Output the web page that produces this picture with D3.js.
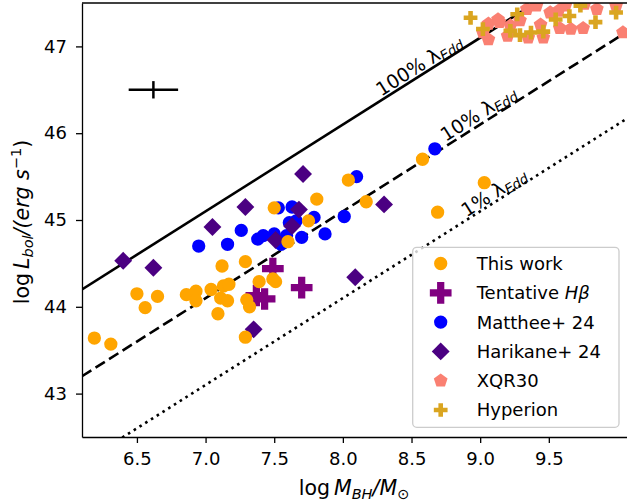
<!DOCTYPE html>
<html lang="en">
<head>
<meta charset="UTF-8">
<title>Lbol vs MBH</title>
<style>
  body { margin: 0; background: #fff; }
  svg text { font-family: "DejaVu Sans", sans-serif; fill: #000; }
</style>
</head>
<body>
<svg id="chart" width="627" height="503"></svg>
<script src="https://d3js.org/d3.v7.min.js"></script>
<script>

// [log M_BH, log L_bol]
const thisWork = [
  [6.19,43.64],[6.31,43.57],[6.50,44.15],[6.56,43.99],[6.65,44.12],[6.86,44.14],
  [6.93,44.18],[6.93,44.07],[7.04,44.20],[7.09,43.92],[7.12,44.47],[7.13,44.24],
  [7.17,44.26],[7.11,44.10],[7.16,44.07],[7.29,44.52],[7.39,44.29],[7.49,44.32],
  [7.51,44.29],[7.30,44.08],[7.32,44.00],[7.29,43.65],[7.50,45.14],[7.81,45.24],
  [7.75,44.99],[7.60,44.75],[8.04,45.46],[8.17,45.21],[8.58,45.70],[9.03,45.43],
  [8.69,45.09]
];
const tentative = [[7.49,44.44],[7.70,44.22],[7.37,44.13],[7.43,44.09]];
const matthee = [
  [6.95,44.70],[7.16,44.72],[7.26,44.88],[7.38,44.78],[7.42,44.82],[7.50,44.84],
  [7.53,45.14],[7.63,45.15],[7.61,44.97],[7.66,44.99],[7.59,44.82],[7.70,44.80],
  [7.55,44.72],[7.79,45.03],[7.87,44.84],[8.01,45.04],[8.10,45.50],[8.67,45.82]
];
const harikane = [
  [6.40,44.53],[6.62,44.45],[7.05,44.92],[7.29,45.15],[7.71,45.53],[7.68,45.12],
  [7.63,44.93],[7.51,44.77],[8.09,44.34],[8.30,45.18],[7.35,43.74]
];
const xqr30 = [
  [9.02,47.16],[9.06,47.08],[9.06,47.26],[9.13,47.31],[9.14,47.28],[9.22,47.24],
  [9.20,47.12],[9.34,47.43],[9.41,47.47],[9.35,47.10],[9.46,47.10],[9.51,47.39],
  [9.57,47.41],[9.62,47.47],[9.58,47.21],[9.66,47.20],[9.75,47.21],[9.76,47.49],
  [9.85,47.43],[9.99,47.47],[10.04,47.16],[9.29,47.30],[9.44,47.25]
];
const hyperion = [
  [8.93,47.33],[9.02,47.20],[9.22,47.18],[9.27,47.37],[9.29,47.13],[9.37,47.16],
  [9.46,47.17],[9.55,47.31],[9.65,47.35],[9.73,47.47],[9.84,47.28],[9.99,47.39]
];

const xTicks = [6.5, 7.0, 7.5, 8.0, 8.5, 9.0, 9.5];
const yTicks = [43, 44, 45, 46, 47];

// Eddington lines: log L = log M + 38.1 + log(fraction)
const eddFractions = [1, 0.1, 0.01];
const eddLabels = ["100%", "10%", "1%"];
const eddLabelPos = [[8.28, 46.42], [8.75, 45.90], [8.90, 45.03]];

// typical uncertainty cross
const errCross = {x: 6.62, y: 46.5, xerr: 0.18, yerr: 0.1};

const legendNames = ["This work", "Tentative", "Matthee+ 24", "Harikane+ 24", "XQR30", "Hyperion"];

const svg = d3.select("#chart");
const pLeft = 82, pTop = 3, pBottom = 437, pRight = 627;

const x = d3.scaleLinear().domain([6.1, 10.1]).range([pLeft, pLeft + 4 * 137.3]);
const y = d3.scaleLinear().domain([42.5, 47.5]).range([pBottom, pTop]);

svg.append("clipPath").attr("id", "plotclip")
  .append("rect").attr("x", pLeft).attr("y", pTop)
  .attr("width", pRight - pLeft).attr("height", pBottom - pTop);

const plot = svg.append("g").attr("clip-path", "url(#plotclip)");

// Eddington lines
const dashes = [null, "11,5", "2.6,4.2"];
const line = d3.line().x(d => x(d[0])).y(d => y(d[1]));
eddFractions.forEach((f, i) => {
  const off = 38.1 + Math.log10(f);
  plot.append("path")
    .attr("d", line([[6.1, 6.1 + off], [10.1, 10.1 + off]]))
    .attr("fill", "none")
    .attr("stroke", "#000")
    .attr("stroke-width", 2.6)
    .attr("stroke-dasharray", dashes[i]);
});

// line labels, rotated along the lines
const angle = -Math.atan((y(0) - y(1)) / (x(1) - x(0))) * 180 / Math.PI;
eddLabels.forEach((lab, i) => {
  const p = eddLabelPos[i];
  const t = svg.append("text")
    .attr("transform", `translate(${x(p[0])},${y(p[1])}) rotate(${angle})`)
    .style("font-size", "19px");
  t.append("tspan").text(lab + " \u03bb");
  t.append("tspan").text("Edd").style("font-style", "italic")
    .style("font-size", "13.5px").attr("dy", 3);
});

// error cross
plot.append("line")
  .attr("x1", x(errCross.x - errCross.xerr)).attr("x2", x(errCross.x + errCross.xerr))
  .attr("y1", y(errCross.y)).attr("y2", y(errCross.y))
  .attr("stroke", "#000").attr("stroke-width", 2.5);
plot.append("line")
  .attr("x1", x(errCross.x)).attr("x2", x(errCross.x))
  .attr("y1", y(errCross.y - errCross.yerr)).attr("y2", y(errCross.y + errCross.yerr))
  .attr("stroke", "#000").attr("stroke-width", 2.5);

// pentagon symbol (size = radius^2)
const symbolPentagon = {
  draw(ctx, size) {
    const r = Math.sqrt(size);
    for (let k = 0; k < 5; k++) {
      const a = -Math.PI / 2 + k * 2 * Math.PI / 5;
      if (k === 0) ctx.moveTo(r * Math.cos(a), r * Math.sin(a));
      else ctx.lineTo(r * Math.cos(a), r * Math.sin(a));
    }
    ctx.closePath();
  }
};

const styles = [
  {data: thisWork,  type: d3.symbolCircle, size: 139, color: "#FFA500", rot: 0},
  {data: tentative, type: d3.symbolCross,  size: 262, color: "#800080", rot: 0},
  {data: matthee,   type: d3.symbolCircle, size: 139, color: "#0000FF", rot: 0},
  {data: harikane,  type: d3.symbolSquare, size: 160, color: "#4B0082", rot: 45},
  {data: xqr30,     type: symbolPentagon,  size: 52,  color: "#FA8072", rot: 0},
  {data: hyperion,  type: d3.symbolCross,  size: 105, color: "#DAA520", rot: 0}
];

// draw order: Matthee, Harikane, XQR30, Hyperion, Tentative, This work
[2, 3, 4, 5, 1, 0].forEach(i => {
  const s = styles[i];
  plot.append("g").selectAll("path")
    .data(s.data)
    .enter()
    .append("path")
    .attr("d", d3.symbol().type(s.type).size(s.size))
    .attr("transform", d => `translate(${x(d[0])},${y(d[1])}) rotate(${s.rot})`)
    .attr("fill", s.color);
});

// axes
const yAxis = svg.append("g")
  .attr("transform", `translate(${pLeft},0)`)
  .call(d3.axisLeft(y).tickValues(yTicks).tickFormat(d3.format("d"))
    .tickSize(6).tickSizeOuter(0).tickPadding(9));
const xAxis = svg.append("g")
  .attr("transform", `translate(0,${pBottom})`)
  .call(d3.axisBottom(x).tickValues(xTicks).tickFormat(d3.format(".1f"))
    .tickSize(6).tickSizeOuter(0).tickPadding(9));
[xAxis, yAxis].forEach(a => {
  a.selectAll("text").style("font-size", "18px").style("font-family", "DejaVu Sans");
  a.selectAll("line").attr("stroke-width", 1.3);
  a.select(".domain").attr("stroke-width", 1.3);
});
svg.append("line").attr("x1", pLeft).attr("x2", pRight)
  .attr("y1", pTop).attr("y2", pTop).attr("stroke", "#000").attr("stroke-width", 1.3);

// axis labels
const xl = svg.append("text").attr("x", 354).attr("y", 495).attr("text-anchor", "middle")
  .style("font-size", "20.5px");
xl.append("tspan").text("log");
xl.append("tspan").text("M").style("font-style", "italic").attr("dx", 4);
xl.append("tspan").text("BH").style("font-style", "italic").style("font-size", "14.5px").attr("dy", 4);
xl.append("tspan").text("/").style("font-style", "italic").attr("dy", -4);
xl.append("tspan").text("M").style("font-style", "italic");
xl.append("tspan").text("\u2299").style("font-size", "14.5px").attr("dy", 4);

const yl = svg.append("text")
  .attr("transform", `translate(29,${(pTop + pBottom) / 2 + 2}) rotate(-90)`)
  .attr("text-anchor", "middle")
  .style("font-size", "20.5px");
yl.append("tspan").text("log");
yl.append("tspan").text("L").style("font-style", "italic").attr("dx", 4);
yl.append("tspan").text("bol").style("font-style", "italic").style("font-size", "14.5px").attr("dy", 4);
yl.append("tspan").text("/(").style("font-style", "italic").attr("dy", -4);
yl.append("tspan").text("erg s").style("font-style", "italic");
yl.append("tspan").text("\u22121").style("font-size", "14.5px").attr("dy", -8);
yl.append("tspan").text(")").attr("dy", 8);

// legend
const lg = svg.append("g");
lg.append("rect")
  .attr("x", 412.7).attr("y", 247.3).attr("width", 206.3).attr("height", 180)
  .attr("rx", 4).attr("fill", "#fff").attr("fill-opacity", 0.8)
  .attr("stroke", "#cccccc").attr("stroke-width", 1.3);
styles.forEach((s, i) => {
  const cy = 263.5 + i * 29.3;
  lg.append("path")
    .attr("d", d3.symbol().type(s.type).size(s.size))
    .attr("transform", `translate(440.7,${cy}) rotate(${s.rot})`)
    .attr("fill", s.color);
  const t = lg.append("text").attr("x", 476.7).attr("y", cy).attr("dy", "0.36em")
    .style("font-size", "18px");
  t.append("tspan").text(legendNames[i]);
  if (i === 1) t.append("tspan").text(" H\u03b2").style("font-style", "italic");
});

</script>
</body>
</html>
